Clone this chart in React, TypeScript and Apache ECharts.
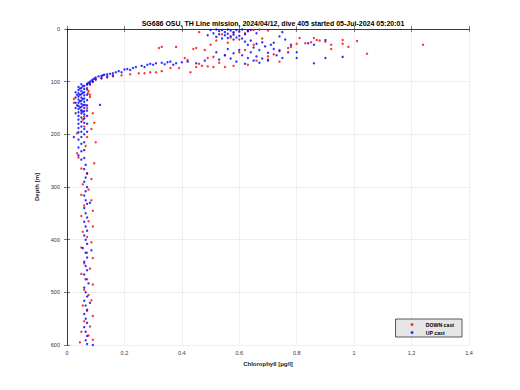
import React, { useEffect, useRef } from "react";
import * as echarts from "echarts";

const titleText = "SG686 OSU, TH Line mission, 2024/04/12, dive 405 started 05-Jul-2024 05:20:01";
const xName = "Chlorophyll [\u03bcg/l]";
const yName = "Depth [m]";
const seriesNames = ["DOWN cast", "UP cast"];

// [chlorophyll, depth]
const downCast: number[][] = [
  [0.65, 2], [0.67, 1], [0.63, 4], [0.70, 3], [0.58, 6], [0.62, 8], [0.46, 6], [0.57, 16], [0.54, 10], [0.52, 22],
  [0.81, 17], [0.86, 17], [0.87, 21], [0.85, 25], [0.83, 27], [0.88, 22], [0.90, 24], [0.92, 30], [0.92, 38],
  [0.96, 21], [0.96, 28], [0.98, 34], [1.01, 23], [1.045, 47], [1.24, 30],
  [0.80, 28], [0.78, 34], [0.74, 40], [0.72, 48], [0.70, 52], [0.77, 36], [0.66, 60], [0.63, 68], [0.58, 70],
  [0.55, 72], [0.51, 72], [0.49, 71], [0.47, 70], [0.45, 72], [0.43, 82], [0.39, 74], [0.36, 74], [0.33, 80],
  [0.31, 82], [0.29, 82], [0.27, 84], [0.25, 84], [0.22, 86], [0.19, 88], [0.16, 90], [0.14, 92], [0.12, 94],
  [0.10, 96], [0.09, 100], [0.08, 106],
  [0.32, 36], [0.33, 34], [0.38, 34], [0.41, 55], [0.42, 59], [0.44, 38], [0.45, 36], [0.48, 40], [0.49, 55],
  [0.51, 53], [0.53, 64], [0.55, 50], [0.60, 44], [0.65, 30], [0.68, 18], [0.50, 30], [0.56, 26], [0.60, 20],
  [0.70, 58], [0.74, 62], [0.62, 40], [0.46, 66],
  [0.07, 112], [0.075, 118], [0.08, 125], [0.073, 122], [0.08, 129], [0.024, 133], [0.024, 140], [0.065, 145],
  [0.07, 150], [0.05, 156], [0.09, 160], [0.06, 166], [0.055, 172], [0.095, 178], [0.06, 185], [0.085, 190],
  [0.035, 198], [0.07, 205], [0.1, 215], [0.065, 222], [0.035, 236], [0.04, 244], [0.095, 255], [0.05, 265],
  [0.07, 275], [0.085, 285], [0.055, 295], [0.075, 305], [0.05, 315], [0.085, 325], [0.06, 335], [0.09, 345],
  [0.05, 355], [0.075, 365], [0.09, 375], [0.055, 385], [0.07, 395], [0.085, 405], [0.05, 415], [0.07, 425],
  [0.09, 435], [0.06, 445], [0.08, 455], [0.05, 465], [0.07, 475], [0.09, 485], [0.06, 495], [0.075, 505],
  [0.085, 515], [0.055, 525], [0.07, 535], [0.09, 545], [0.06, 555], [0.08, 565], [0.05, 575], [0.075, 582],
  [0.09, 590], [0.045, 595],
];

const upCast: number[][] = [
  [0.50, 2], [0.52, 1], [0.53, 4], [0.54, 2], [0.55, 6], [0.56, 1], [0.57, 3], [0.58, 7], [0.59, 2], [0.60, 5],
  [0.61, 1], [0.51, 8], [0.53, 10], [0.55, 12], [0.56, 9], [0.57, 14], [0.58, 11], [0.59, 16], [0.60, 13],
  [0.62, 10], [0.49, 12], [0.52, 15], [0.54, 18], [0.56, 17], [0.58, 20], [0.61, 18], [0.63, 4], [0.64, 2],
  [0.66, 8], [0.75, 6], [0.74, 14], [0.76, 20],
  [0.62, 24], [0.63, 30], [0.64, 22], [0.65, 35], [0.66, 28], [0.67, 40], [0.68, 25], [0.69, 33], [0.70, 45],
  [0.71, 30], [0.72, 38], [0.73, 50], [0.64, 44], [0.66, 52], [0.68, 56], [0.70, 60], [0.72, 26], [0.74, 42],
  [0.75, 55], [0.60, 40], [0.58, 46], [0.61, 50], [0.63, 55], [0.65, 60], [0.67, 64], [0.55, 50], [0.57, 56],
  [0.53, 58], [0.59, 62], [0.62, 66], [0.52, 44], [0.56, 38], [0.78, 30], [0.80, 44], [0.80, 55], [0.84, 27],
  [0.86, 30], [0.86, 65], [0.90, 21], [0.90, 55], [0.96, 53], [0.77, 44],
  [0.48, 60], [0.45, 65], [0.42, 62], [0.40, 63], [0.38, 65], [0.36, 62], [0.35, 63], [0.33, 64], [0.31, 65],
  [0.29, 66], [0.28, 68], [0.26, 70], [0.24, 72], [0.23, 74], [0.21, 76], [0.20, 77], [0.18, 80], [0.17, 82],
  [0.16, 84], [0.15, 85], [0.14, 86], [0.13, 87], [0.125, 88], [0.12, 89], [0.11, 90], [0.10, 92], [0.095, 94],
  [0.09, 96], [0.085, 98], [0.08, 100], [0.075, 102], [0.07, 104],
  [0.30, 68], [0.27, 72], [0.22, 78], [0.19, 82], [0.16, 88], [0.14, 90], [0.12, 93], [0.10, 96], [0.09, 100],
  [0.08, 104], [0.34, 67], [0.37, 68],
  [0.04, 110], [0.04, 116], [0.04, 122], [0.04, 128], [0.04, 134], [0.04, 140], [0.04, 146], [0.04, 152],
  [0.04, 158], [0.04, 165], [0.04, 172], [0.04, 180], [0.04, 188], [0.04, 196], [0.04, 210], [0.04, 225],
  [0.04, 240],
  [0.05, 105], [0.05, 112], [0.05, 118], [0.05, 124], [0.05, 130], [0.05, 136], [0.05, 142], [0.05, 148],
  [0.05, 154], [0.05, 160], [0.05, 168], [0.05, 176], [0.05, 185], [0.05, 195], [0.05, 205], [0.05, 218],
  [0.05, 232], [0.05, 248],
  [0.06, 108], [0.06, 114], [0.06, 120], [0.06, 126], [0.06, 132], [0.06, 138], [0.06, 144], [0.06, 150],
  [0.06, 156], [0.06, 162], [0.06, 170], [0.06, 178], [0.06, 190], [0.06, 200], [0.06, 215], [0.06, 230],
  [0.06, 245],
  [0.07, 106], [0.07, 115], [0.07, 125], [0.07, 135], [0.07, 145], [0.07, 155], [0.07, 165], [0.07, 180],
  [0.07, 195], [0.03, 120], [0.03, 130], [0.03, 140], [0.03, 150], [0.03, 160], [0.024, 205], [0.115, 144],
  [0.045, 113], [0.045, 125], [0.045, 137], [0.045, 149], [0.055, 109], [0.055, 121], [0.055, 133],
  [0.055, 145], [0.055, 157], [0.035, 125], [0.035, 145],
  [0.065, 258], [0.06, 266], [0.07, 274], [0.065, 282], [0.06, 290], [0.07, 300], [0.065, 308], [0.06, 316],
  [0.065, 325], [0.07, 332], [0.06, 340], [0.065, 350], [0.07, 358], [0.06, 366], [0.065, 375], [0.07, 383],
  [0.06, 392], [0.065, 400], [0.07, 408], [0.055, 416], [0.065, 425], [0.07, 434], [0.06, 442], [0.065, 450],
  [0.07, 458], [0.06, 466], [0.065, 475], [0.075, 483], [0.06, 491], [0.065, 500], [0.07, 508], [0.06, 516],
  [0.065, 525], [0.07, 533], [0.06, 541], [0.065, 550], [0.07, 558], [0.06, 566], [0.065, 575], [0.07, 583],
  [0.065, 591], [0.07, 598], [0.08, 330], [0.085, 420], [0.08, 520], [0.09, 600],
];

const FONT = "Liberation Sans, Arial, sans-serif";
const AXIS_COLOR = "#262626";

export default function App() {
  const ref = useRef<HTMLDivElement>(null);

  useEffect(() => {
    if (!ref.current) return;
    const chart = echarts.init(ref.current, null, { renderer: "svg" });
    const baseX = {
      type: "value" as const,
      min: 0,
      max: 1.4,
      interval: 0.2,
    };
    const baseY = {
      type: "value" as const,
      min: 0,
      max: 600,
      interval: 100,
      inverse: true,
    };
    chart.setOption({
      animation: false,
      backgroundColor: "#ffffff",
      title: {
        text: titleText,
        left: 268,
        textAlign: "center",
        top: 15,
        textStyle: { fontFamily: FONT, fontSize: 7, fontWeight: "bold", color: "#000" },
      },
      legend: {
        data: seriesNames,
        orient: "vertical",
        right: 58,
        bottom: 53,
        itemWidth: 3,
        itemHeight: 3,
        itemGap: 3,
        icon: "circle",
        backgroundColor: "#e6e6e6",
        borderColor: "#333",
        borderWidth: 0.8,
        borderRadius: 0,
        padding: [3, 8, 2, 15],
        formatter: (n: string) => "     " + n,
        textStyle: { fontFamily: FONT, fontSize: 5.2, fontWeight: "bold", color: "#000" },
      },
      grid: { left: 67, right: 51, top: 29, bottom: 45 },
      xAxis: [
        {
          ...baseX,
          position: "bottom",
          name: xName,
          nameLocation: "middle",
          nameGap: 14,
          nameTextStyle: { fontFamily: FONT, fontSize: 6, fontWeight: "bold", color: "#222" },
          axisLine: { show: true, lineStyle: { color: AXIS_COLOR, width: 0.7 } },
          axisTick: { show: true, inside: true, length: 3, lineStyle: { color: AXIS_COLOR, width: 0.6 } },
          axisLabel: { fontFamily: FONT, fontSize: 5.5, color: "#333", margin: 5 },
          splitLine: { show: true, lineStyle: { color: "#e4e4e4", width: 0.6 } },
        },
        {
          ...baseX,
          position: "top",
          axisLine: { show: true, lineStyle: { color: AXIS_COLOR, width: 0.7 } },
          axisTick: { show: true, inside: true, length: 3, lineStyle: { color: AXIS_COLOR, width: 0.6 } },
          axisLabel: { show: false },
          splitLine: { show: false },
        },
      ],
      yAxis: [
        {
          ...baseY,
          position: "left",
          name: yName,
          nameLocation: "middle",
          nameGap: 18,
          nameRotate: 90,
          nameTextStyle: { fontFamily: FONT, fontSize: 6, fontWeight: "bold", color: "#222" },
          axisLine: { show: true, lineStyle: { color: AXIS_COLOR, width: 0.7 } },
          axisTick: { show: true, inside: true, length: 3, lineStyle: { color: AXIS_COLOR, width: 0.6 } },
          axisLabel: { fontFamily: FONT, fontSize: 5.5, color: "#333", margin: 7 },
          splitLine: { show: true, lineStyle: { color: "#e4e4e4", width: 0.6 } },
        },
        {
          ...baseY,
          position: "right",
          axisLine: { show: true, lineStyle: { color: AXIS_COLOR, width: 0.7 } },
          axisTick: { show: true, inside: true, length: 3, lineStyle: { color: AXIS_COLOR, width: 0.6 } },
          axisLabel: { show: false },
          splitLine: { show: false },
        },
      ],
      series: [
        {
          name: seriesNames[0],
          type: "scatter",
          xAxisIndex: 0,
          yAxisIndex: 0,
          data: downCast,
          symbol: "circle",
          symbolSize: 2.4,
          itemStyle: { color: "#ff0000" },
        },
        {
          name: seriesNames[1],
          type: "scatter",
          xAxisIndex: 0,
          yAxisIndex: 0,
          data: upCast,
          symbol: "circle",
          symbolSize: 2.4,
          itemStyle: { color: "#0000ff" },
        },
      ],
    });
    return () => chart.dispose();
  }, []);

  return (
    <div
      ref={ref}
      style={{ position: "absolute", left: 0, top: 0, width: 520, height: 390, background: "#fff" }}
    />
  );
}
